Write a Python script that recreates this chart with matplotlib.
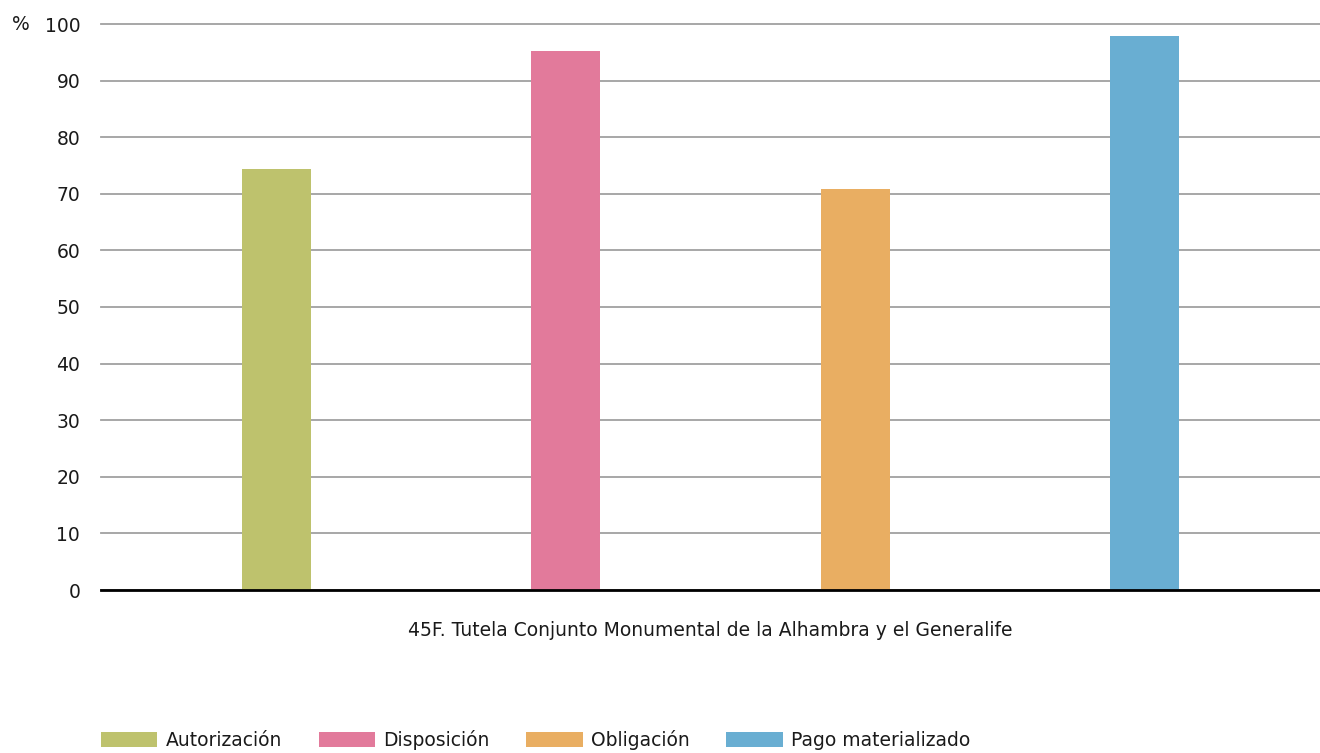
import matplotlib
matplotlib.use("Agg")
import matplotlib.pyplot as plt
from matplotlib.patches import Patch

category = "45F. Tutela Conjunto Monumental de la Alhambra y el Generalife"
series = ["Autorización", "Disposición", "Obligación", "Pago materializado"]
values = [74.4, 95.2, 70.9, 97.9]
colors = ["#bec26d", "#e27a9b", "#e9ae62", "#69aed2"]
yticks = [0, 10, 20, 30, 40, 50, 60, 70, 80, 90, 100]

plt.rcParams["font.family"] = ["DejaVu Sans"]
txt = "#1a1a1a"

W, H = 1320, 753
fig = plt.figure(figsize=(W / 100, H / 100), dpi=100)
ax = fig.add_axes([101 / W, (H - 590) / H, (1320 - 101) / W, (590 - 24) / H])

spacing = 0.2375
width = 0.0566
for i, (s, v, c) in enumerate(zip(series, values, colors)):
    ax.bar((i - 1.5) * spacing, v, width=width, color=c, label=s, zorder=3)

ax.set_xlim(-0.5, 0.5)
ax.set_ylim(0, 100)
ax.set_yticks(yticks)
ax.set_yticklabels([str(t) for t in yticks], fontsize=13.5, color=txt)
ax.tick_params(axis="y", length=0, pad=15)
ax.set_xticks([0])
ax.set_xticklabels([category], fontsize=13.5, color=txt)
ax.tick_params(axis="x", length=0, pad=22)
ax.grid(axis="y", color="#a0a0a0", linewidth=1.3, zorder=0)
for gl in ax.yaxis.get_gridlines():
    gl.set_clip_on(False)
ax.set_axisbelow(True)
for sp in ["top", "right", "left"]:
    ax.spines[sp].set_visible(False)
ax.spines["bottom"].set_color("#000000")
ax.spines["bottom"].set_linewidth(2)
ax.spines["bottom"].set_zorder(4)

fig.text(12 / W, 1 - 25 / H, "%", fontsize=13.5, color=txt, va="center", ha="left")

handles = [Patch(facecolor=c, edgecolor="none") for c in colors]
fig.legend(handles, series, loc="center left", bbox_to_anchor=(101 / W, 1 - 740 / H),
           ncol=4, frameon=False, fontsize=13.5, handlelength=3.0, handleheight=0.85,
           handletextpad=0.45, columnspacing=1.95, labelcolor=txt, borderpad=0, borderaxespad=0)

fig.savefig("out.png", dpi=100)
